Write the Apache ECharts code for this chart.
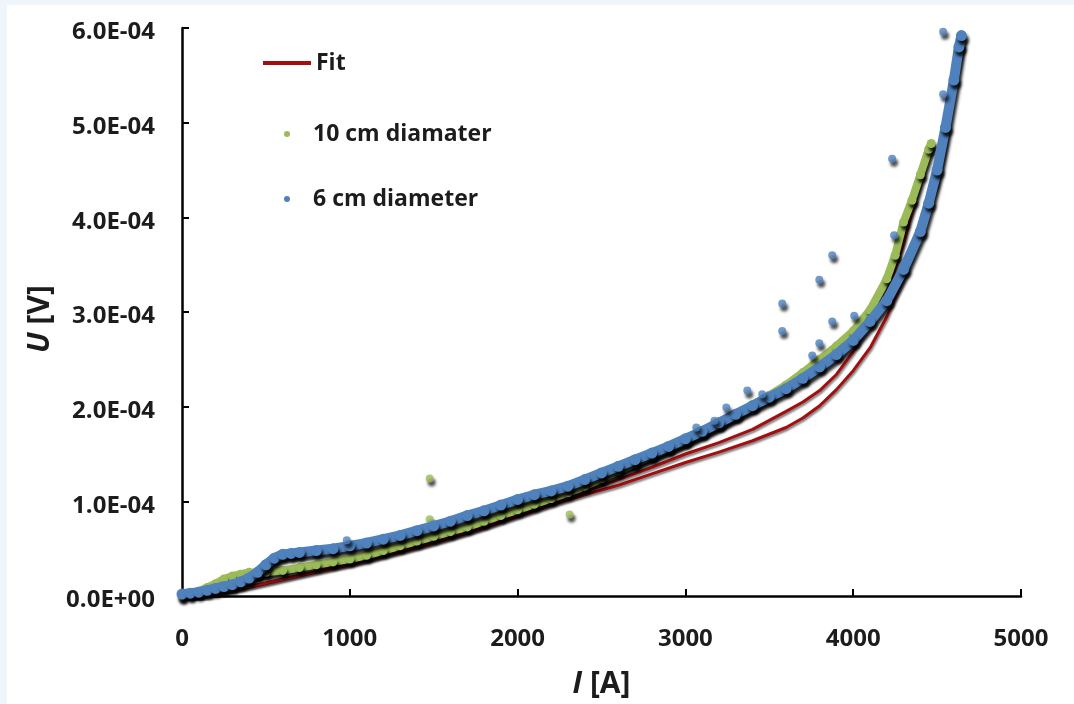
<!DOCTYPE html>
<html><head><meta charset="utf-8">
<script src="https://cdn.jsdelivr.net/npm/echarts@6/dist/echarts.min.js"></script>
<style>
html,body{margin:0;padding:0;background:#eef6fb;width:1074px;height:704px;overflow:hidden}
#c{position:absolute;left:7px;top:5px;width:1067px;height:699px;background:#fff}
</style></head><body><div id="c"></div>
<script>
// ---- data: [I (A), U (V)] ----
const fitName = 'Fit';
const name10 = '10 cm diamater';
const name6 = '6 cm diameter';

const fitA = [[0,0],[200,3e-6],[400,1.0e-5],[600,1.8e-5],[800,2.6e-5],[1000,3.4e-5],[1200,4.3e-5],[1400,5.2e-5],[1600,6.2e-5],[1800,7.3e-5],[2000,8.6e-5],[2200,9.8e-5],[2400,1.10e-4],[2600,1.23e-4],[2800,1.36e-4],[3000,1.50e-4],[3200,1.62e-4],[3400,1.76e-4],[3600,1.95e-4],[3700,2.05e-4],[3800,2.17e-4],[3900,2.34e-4],[4000,2.58e-4],[4100,2.86e-4],[4200,3.20e-4],[4300,3.72e-4],[4350,4.05e-4],[4400,4.38e-4],[4450,4.70e-4],[4462,4.76e-4]];

const fitB = [[0,0],[200,3e-6],[400,9e-6],[600,1.7e-5],[800,2.5e-5],[1000,3.3e-5],[1200,4.2e-5],[1400,5.1e-5],[1600,6.1e-5],[1800,7.2e-5],[2000,8.4e-5],[2200,9.6e-5],[2400,1.07e-4],[2600,1.17e-4],[2800,1.29e-4],[3000,1.41e-4],[3200,1.52e-4],[3400,1.64e-4],[3600,1.78e-4],[3700,1.88e-4],[3800,2.01e-4],[3900,2.18e-4],[4000,2.38e-4],[4100,2.62e-4],[4200,2.95e-4],[4300,3.35e-4],[4400,3.85e-4],[4500,4.33e-4],[4550,4.75e-4],[4600,5.35e-4],[4650,5.75e-4],[4665,5.80e-4]];

const d10 = [[0,0],[50,2e-6],[100,5e-6],[150,9e-6],[200,1.3e-5],[250,1.8e-5],[300,2.1e-5],[350,2.3e-5],[400,2.5e-5],[450,2.4e-5],[500,2.5e-5],[600,2.7e-5],[700,3.0e-5],[800,3.3e-5],[900,3.6e-5],[1000,3.9e-5],[1100,4.3e-5],[1200,4.8e-5],[1300,5.3e-5],[1400,5.8e-5],[1500,6.3e-5],[1600,6.8e-5],[1700,7.3e-5],[1800,7.9e-5],[1900,8.5e-5],[2000,9.1e-5],[2100,9.7e-5],[2200,1.03e-4],[2300,1.09e-4],[2400,1.16e-4],[2500,1.24e-4],[2600,1.32e-4],[2700,1.40e-4],[2800,1.48e-4],[2900,1.56e-4],[3000,1.64e-4],[3100,1.73e-4],[3200,1.82e-4],[3300,1.92e-4],[3400,2.02e-4],[3500,2.12e-4],[3600,2.23e-4],[3700,2.36e-4],[3800,2.50e-4],[3900,2.64e-4],[4000,2.80e-4],[4100,3.02e-4],[4200,3.35e-4],[4250,3.60e-4],[4300,3.95e-4],[4350,4.18e-4],[4400,4.45e-4],[4450,4.72e-4],[4465,4.78e-4]];
const d10Out = [[1476,1.24e-4],[1476,8.1e-5],[2310,8.6e-5]];

const d6 = [[0,2e-6],[50,3e-6],[100,4e-6],[150,6e-6],[200,8e-6],[250,1.0e-5],[300,1.2e-5],[350,1.5e-5],[400,1.9e-5],[450,2.5e-5],[500,3.3e-5],[550,4.0e-5],[600,4.4e-5],[650,4.5e-5],[700,4.6e-5],[800,4.8e-5],[900,5.0e-5],[1000,5.3e-5],[1100,5.6e-5],[1200,6.0e-5],[1300,6.4e-5],[1400,6.9e-5],[1500,7.4e-5],[1600,7.9e-5],[1700,8.5e-5],[1800,9.0e-5],[1900,9.6e-5],[2000,1.02e-4],[2100,1.07e-4],[2200,1.11e-4],[2300,1.16e-4],[2400,1.23e-4],[2500,1.30e-4],[2600,1.37e-4],[2700,1.44e-4],[2800,1.51e-4],[2900,1.58e-4],[3000,1.66e-4],[3100,1.74e-4],[3200,1.83e-4],[3300,1.92e-4],[3400,2.01e-4],[3500,2.10e-4],[3600,2.19e-4],[3700,2.30e-4],[3800,2.42e-4],[3900,2.55e-4],[4000,2.70e-4],[4100,2.90e-4],[4200,3.12e-4],[4300,3.45e-4],[4400,3.85e-4],[4450,4.15e-4],[4500,4.50e-4],[4550,4.95e-4],[4600,5.45e-4],[4630,5.80e-4],[4645,5.92e-4]];
const d6Out = [[982,5.9e-5],[3065,1.78e-4],[3173,1.85e-4],[3244,1.99e-4],[3369,2.17e-4],[3458,2.13e-4],[3577,3.09e-4],[3577,2.80e-4],[3756,2.54e-4],[3798,3.34e-4],[3798,2.67e-4],[3875,3.60e-4],[3875,2.90e-4],[4006,2.96e-4],[4232,4.62e-4],[4244,3.81e-4],[4536,5.96e-4],[4536,5.30e-4]];

const xMin = 0, xMax = 5000, xStep = 1000;
const yMin = 0, yMax = 6e-4, yStep = 1e-4;

// ---- styles ----
const FONT = "'Open Sans', sans-serif";
const TXT = '#1c1c1c';
const RED = '#a30f0f', GREEN = '#9bbb59', BLUE = '#4f81bd';
const shadow = {shadowColor:'rgba(0,0,0,0.85)', shadowBlur:3, shadowOffsetX:2, shadowOffsetY:4};

function sci(v){
  const s = Number(v).toExponential(1).split('e');
  const sign = s[1][0] === '-' ? '-' : '+';
  const d = s[1].replace(/[+-]/,'').padStart(2,'0');
  return '{a|' + s[0] + 'E' + sign + d + '}';
}

const chart = echarts.init(document.getElementById('c'), null, {renderer:'canvas'});
const dataLine = (name, data, color, z, w) => ({
  name, type:'line', data, z,
  showSymbol:true, symbol:'circle', symbolSize:w + 1,
  itemStyle:Object.assign({color}, shadow),
  lineStyle:Object.assign({color, width:w}, shadow),
  emphasis:{disabled:true}, silent:true
});
const outPts = (name, data, color, z) => ({
  name, type:'scatter', data, z, symbolSize:8,
  itemStyle:Object.assign({color}, shadow), silent:true
});
const fitLine = (data) => ({
  name:fitName, type:'line', data, z:1, showSymbol:false, symbol:'none',
  lineStyle:{color:RED, width:3, shadowColor:'rgba(0,0,0,0.5)', shadowBlur:2, shadowOffsetX:1, shadowOffsetY:2},
  itemStyle:{color:RED}, silent:true
});

const noShadow = {shadowBlur:0, shadowColor:'transparent', shadowOffsetX:0, shadowOffsetY:0};
const legendText = {fontFamily:FONT, fontWeight:'bold', fontSize:23, color:TXT, lineHeight:24};

chart.setOption({
  animation:false,
  backgroundColor:'#fff',
  grid:{left:175, right:53, top:23, bottom:105.5, containLabel:false},
  legend:[
    {data:[{name:fitName, icon:'rect'}], left:256, top:46, padding:0, orient:'vertical',
     itemWidth:48, itemHeight:4, symbolKeepAspect:false, itemGap:0,
     textStyle:legendText, itemStyle:Object.assign({color:RED}, noShadow), selectedMode:false},
    {data:[{name:name10, icon:'circle'},{name:name6, icon:'circle'}], left:277, top:117, padding:0, orient:'vertical',
     itemWidth:6, itemHeight:6, itemGap:41,
     textStyle:Object.assign({padding:[0,0,0,18]}, legendText), itemStyle:noShadow, selectedMode:false}
  ],
  xAxis:{
    type:'value', min:xMin, max:xMax, interval:xStep,
    name:'{i|I} [A]', nameLocation:'middle', nameGap:73,
    nameTextStyle:{fontFamily:FONT, fontWeight:'bold', fontSize:30, color:TXT,
      rich:{i:{fontFamily:FONT, fontWeight:'bold', fontStyle:'italic', fontSize:30, color:TXT}}},
    axisLine:{show:true, onZero:false, lineStyle:{color:'#000', width:2.5}},
    axisTick:{show:true, inside:true, length:7, lineStyle:{color:'#000', width:2}},
    axisLabel:{margin:31, fontFamily:FONT, fontWeight:'bold', fontSize:24, color:TXT, formatter:v=>String(v)},
    splitLine:{show:false}
  },
  yAxis:{
    type:'value', min:yMin, max:yMax, interval:yStep,
    name:'{i|U} [V]', nameLocation:'middle', nameGap:114,
    nameTextStyle:{fontFamily:FONT, fontWeight:'bold', fontSize:30, color:TXT, padding:[0,14,0,0],
      rich:{i:{fontFamily:FONT, fontWeight:'bold', fontStyle:'italic', fontSize:30, color:TXT}}},
    axisLine:{show:true, onZero:false, lineStyle:{color:'#000', width:2.5}},
    axisTick:{show:true, inside:true, length:7, lineStyle:{color:'#000', width:2}},
    axisLabel:{margin:27, fontFamily:FONT, fontWeight:'bold', fontSize:24, color:TXT, formatter:sci,
      rich:{a:{fontFamily:FONT, fontWeight:'bold', fontSize:24, color:TXT, padding:[9,0,0,0]}}},
    splitLine:{show:false}
  },
  series:[
    fitLine(fitB),
    fitLine(fitA),
    dataLine(name10, d10, GREEN, 2, 8),
    outPts(name10, d10Out, GREEN, 2),
    dataLine(name6, d6, BLUE, 3, 10),
    outPts(name6, d6Out, BLUE, 3)
  ]
});
</script></body></html>
